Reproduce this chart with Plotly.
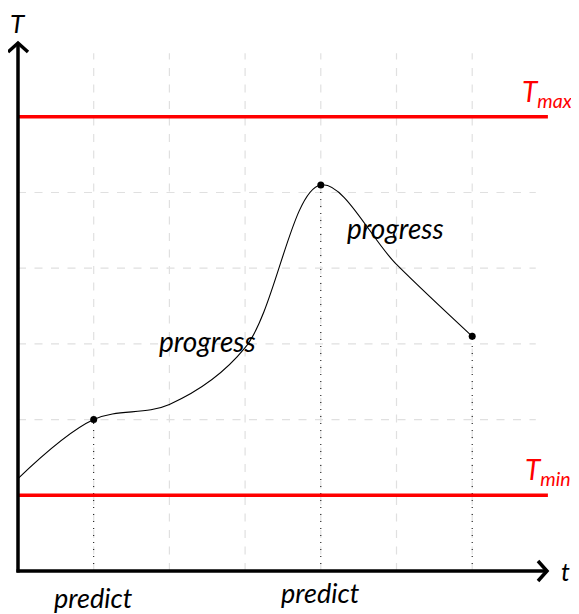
import plotly.graph_objects as go

# ---- data ----
curve_t = [0, 1, 2, 3, 4, 5, 6]
curve_T = [1.22, 2.0, 2.2, 2.95, 5.1, 4.05, 3.1]
predict_t = [1, 4, 6]
predict_T = [2.0, 5.1, 3.1]
T_max = 6.0
T_min = 1.0
grid_ticks = [1, 2, 3, 4, 5, 6]
label_predict = "predict"
label_progress = "progress"

PAD = 8  # default page body margin
U = 75.7  # pixels per unit
OX, OY = 18 - PAD, 571 - PAD
W, H = 579 - PAD, 614 - PAD
xr = [(0 - OX) / U, (W - OX) / U]
yr = [(OY - H) / U, (OY - 0) / U]

def px(x):
    return (x - PAD - OX) / U

def py(y):
    return (OY - (y - PAD)) / U

fig = go.Figure()

shapes = []
grid_end = 6.84
gcol = "#e0e0e0"
for g in grid_ticks:
    shapes.append(dict(type="line", x0=g, x1=g, y0=0, y1=grid_end, xref="x", yref="y",
                       line=dict(color=gcol, width=1.2, dash="8px,8.5px"), layer="below"))
    shapes.append(dict(type="line", x0=0, x1=grid_end, y0=g, y1=g, xref="x", yref="y",
                       line=dict(color=gcol, width=1.2, dash="8px,8.5px"), layer="below"))

# dotted drop lines
for t, T in zip(predict_t, predict_T):
    shapes.append(dict(type="line", x0=t, x1=t, y0=0, y1=T, xref="x", yref="y",
                       line=dict(color="black", width=1, dash="1px,6px")))

# limit lines
for lim in (T_max, T_min):
    shapes.append(dict(type="line", x0=0, x1=7.0, y0=lim, y1=lim, xref="x", yref="y",
                       line=dict(color="#ff0000", width=3.5)))

# axes
ax_w = 3.5
xt = px(547)
yt = py(43)
shapes.append(dict(type="line", x0=-0.02, x1=xt, y0=0, y1=0,
                   line=dict(color="black", width=ax_w)))
shapes.append(dict(type="line", x0=0, x1=0, y0=-0.02, y1=yt,
                   line=dict(color="black", width=ax_w)))
# arrow heads (open chevrons)
shapes.append(dict(type="path",
                   path=f"M {xt-9/U} {10/U} L {xt} 0 L {xt-9/U} {-10/U}",
                   line=dict(color="black", width=ax_w)))
shapes.append(dict(type="path",
                   path=f"M {-10/U} {yt-9/U} L 0 {yt} L {10/U} {yt-9/U}",
                   line=dict(color="black", width=ax_w)))

fig.add_trace(go.Scatter(x=curve_t, y=curve_T, mode="lines",
                         line=dict(color="black", width=1.1, shape="spline", smoothing=1.0),
                         hoverinfo="skip", showlegend=False))
fig.add_trace(go.Scatter(x=predict_t, y=predict_T, mode="markers",
                         marker=dict(color="black", size=7),
                         hoverinfo="skip", showlegend=False))

FONT = "Lato"
ann = []
def txt(x, y, s, size=22, color="black"):
    ann.append(dict(x=x, y=y, xref="x", yref="y", text=s, showarrow=False,
                    font=dict(family=FONT, size=size, color=color), borderpad=0,
                    xanchor="center", yanchor="middle"))

txt(0, py(23), "<i>T</i>", size=26)
txt(px(565), 0, "<i>t</i>", size=25)
txt(px(547), py(93), "<i>T</i><sub><i>max</i></sub>", size=28, color="#ff0000")
txt(px(548), py(471), "<i>T</i><sub><i>min</i></sub>", size=28, color="#ff0000")
txt(predict_t[0], py(597), f"<i>{label_predict}</i>", size=27)
txt(predict_t[1], py(592), f"<i>{label_predict}</i>", size=27)
txt(px(207), py(341), f"<i>{label_progress}</i>", size=28)
txt(px(395), py(228), f"<i>{label_progress}</i>", size=28)

fig.update_layout(width=W, height=H, margin=dict(l=0, r=0, t=0, b=0),
                  paper_bgcolor="white", plot_bgcolor="white",
                  shapes=shapes, annotations=ann, showlegend=False,
                  xaxis=dict(range=xr, visible=False, fixedrange=True),
                  yaxis=dict(range=yr, visible=False, fixedrange=True))
fig.write_html("out.html")
